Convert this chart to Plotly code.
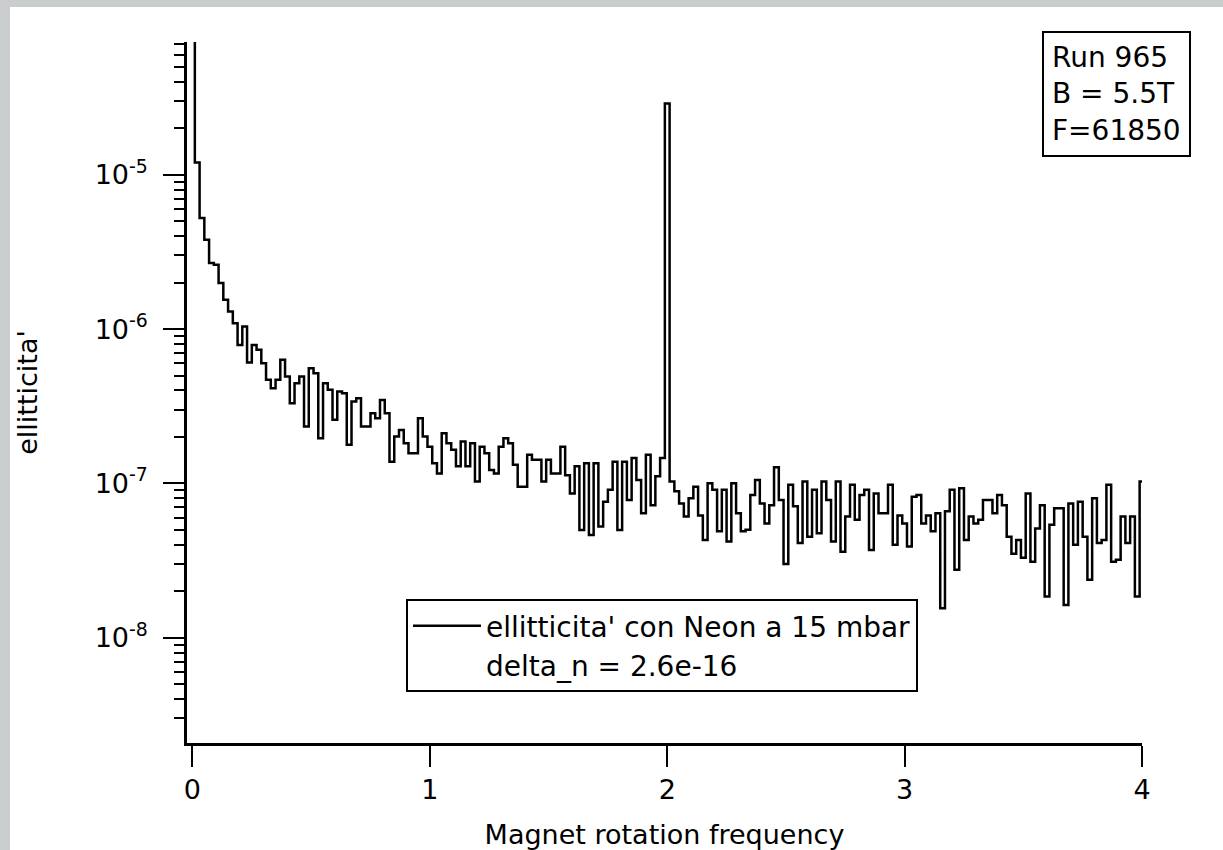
import plotly.graph_objects as go

# Frequency bins (0 to 4, step 0.02)
freq = [round(0.02 * i, 2) for i in range(201)]

# Ellipticity values (one per bin)
ellip_0_2 = [
    2.0e-4, 1.20e-5, 5.24e-6, 3.79e-6, 2.68e-6, 2.61e-6, 1.99e-6, 1.55e-6, 1.30e-6, 1.09e-6,
    7.9e-7, 1.04e-6, 6.07e-7, 7.9e-7, 7.34e-7, 6.01e-7, 4.69e-7, 4.14e-7, 4.69e-7, 6.32e-7,
    4.93e-7, 3.31e-7, 4.46e-7, 4.93e-7, 2.34e-7, 5.58e-7, 5.18e-7, 1.96e-7, 4.46e-7, 4.04e-7,
    2.58e-7, 3.94e-7, 3.84e-7, 1.78e-7, 3.39e-7, 3.56e-7, 2.34e-7, 2.34e-7, 2.85e-7, 2.64e-7,
    3.47e-7, 2.85e-7, 1.38e-7, 2.01e-7, 2.22e-7, 1.82e-7, 1.57e-7, 1.57e-7, 2.64e-7, 2.01e-7,
    1.73e-7, 1.35e-7, 1.16e-7, 2.11e-7, 1.82e-7, 1.65e-7, 1.29e-7, 1.87e-7, 1.29e-7, 1.82e-7,
    1.03e-7, 1.73e-7, 1.57e-7, 1.22e-7, 1.16e-7, 1.73e-7, 1.96e-7, 1.82e-7, 1.32e-7, 9.5e-8,
    9.5e-8, 1.53e-7, 1.42e-7, 1.42e-7, 1.03e-7, 1.42e-7, 1.16e-7, 1.16e-7, 1.73e-7, 1.13e-7,
    8.6e-8, 1.29e-7, 4.99e-8, 1.35e-7, 4.63e-8, 1.35e-7, 5.25e-8, 7.6e-8, 9.1e-8, 1.38e-7,
    4.99e-8, 1.38e-7, 7.8e-8, 1.46e-7, 1.05e-7, 6.4e-8, 1.53e-7, 7.2e-8, 1.11e-7, 1.46e-7,
]
ellip_2_4 = [
    2.9e-5,
    1.03e-7, 8.9e-8, 7.4e-8, 6.1e-8, 8.0e-8, 9.5e-8, 6.2e-8, 4.3e-8, 1.0e-7, 9.1e-8,
    4.9e-8, 9.1e-8, 4.2e-8, 1.0e-7, 6.4e-8, 4.9e-8, 5.0e-8, 8.4e-8, 1.05e-7, 7.4e-8,
    5.5e-8, 7.2e-8, 1.27e-7, 7.8e-8, 3.0e-8, 9.8e-8, 7.1e-8, 4.1e-8, 1.03e-7, 4.5e-8,
    9.1e-8, 4.75e-8, 1.03e-7, 7.8e-8, 4.2e-8, 1.03e-7, 3.6e-8, 6.1e-8, 9.8e-8, 5.8e-8,
    8.4e-8, 9.1e-8, 3.7e-8, 8.6e-8, 6.4e-8, 6.4e-8, 9.8e-8, 4.0e-8, 6.2e-8, 5.5e-8,
    3.9e-8, 8.2e-8, 8.4e-8, 5.5e-8, 6.2e-8, 4.9e-8, 6.4e-8, 1.55e-8, 6.6e-8, 9.1e-8,
    2.75e-8, 9.3e-8, 4.3e-8, 6.1e-8, 5.5e-8, 5.8e-8, 7.8e-8, 7.8e-8, 6.4e-8, 8.4e-8,
    7.2e-8, 4.5e-8, 3.5e-8, 4.3e-8, 3.3e-8, 8.6e-8, 3.1e-8, 5.1e-8, 7.2e-8, 1.85e-8,
    5.4e-8, 6.9e-8, 6.9e-8, 1.63e-8, 7.4e-8, 4.0e-8, 7.6e-8, 4.5e-8, 2.37e-8, 8.0e-8,
    4.1e-8, 4.3e-8, 9.8e-8, 3.1e-8, 3.2e-8, 6.1e-8, 4.1e-8, 6.1e-8, 1.85e-8, 1.03e-7,
]
ellip = ellip_0_2 + ellip_2_4

ytick_vals = [1e-8, 1e-7, 1e-6, 1e-5]
ytick_text = ["10<sup>-8</sup>", "10<sup>-7</sup>", "10<sup>-6</sup>", "10<sup>-5</sup>"]
yminor_vals = [m * 10.0 ** e for e in range(-9, -4) for m in range(2, 10)]
xtick_vals = [0, 1, 2, 3, 4]

series_name = "ellitticita' con Neon a 15 mbar"
note_name = "delta_n = 2.6e-16"
info_text = "Run 965<br>B = 5.5T<br>F=61850"

FONT = "DejaVu Sans"

fig = go.Figure()
fig.add_trace(go.Scatter(
    x=freq, y=ellip, mode="lines", line_shape="hvh",
    line=dict(color="black", width=2.5), name=series_name,
))
fig.add_trace(go.Scatter(
    x=[None], y=[None], mode="lines",
    line=dict(color="rgba(0,0,0,0)", width=0), name=note_name,
))

fig.update_layout(
    width=1223, height=850, autosize=False,
    margin=dict(l=187, r=81, t=42, b=107, autoexpand=False),
    paper_bgcolor="#c9cdcd", plot_bgcolor="white",
    font=dict(family=FONT, size=27, color="black"),
    showlegend=True,
    legend=dict(
        x=0.2293, y=0.2054, xanchor="left", yanchor="top",
        bgcolor="white", bordercolor="black", borderwidth=2,
        font=dict(family=FONT, size=28, color="black"),
        tracegroupgap=0, itemwidth=68,
    ),
    xaxis=dict(
        automargin=False,
        range=[-0.023, 4.0], tickmode="array", tickvals=xtick_vals,
        ticks="outside", ticklen=21, tickwidth=2, tickcolor="black",
        showline=True, linewidth=2.5, linecolor="black",
        showgrid=False, zeroline=False,
        tickfont=dict(family=FONT, size=27),
        title=dict(text="Magnet rotation frequency", standoff=30,
                   font=dict(family=FONT, size=27)),
    ),
    yaxis=dict(
        automargin=False,
        type="log", range=[-8.683, -4.139],
        tickmode="array", tickvals=ytick_vals, ticktext=ytick_text,
        ticks="outside", ticklen=21, tickwidth=2, tickcolor="black",
        ticklabelstandoff=10,
        minor=dict(tickmode="array", tickvals=yminor_vals, ticks="outside",
                   ticklen=10, tickwidth=2, tickcolor="black", showgrid=False),
        showline=True, linewidth=2.5, linecolor="black",
        showgrid=False, zeroline=False,
        tickfont=dict(family=FONT, size=27),
        title=dict(text="ellitticita'", standoff=50,
                   font=dict(family=FONT, size=27)),
    ),
    shapes=[dict(
        type="rect", xref="paper", yref="paper",
        x0=-0.18534, x1=1.2, y0=-0.3, y1=1.04993,
        fillcolor="white", line=dict(width=0), layer="below",
    )],
    annotations=[dict(
        text=info_text, xref="paper", yref="paper",
        x=0.8953, y=1.0157, xanchor="left", yanchor="top",
        align="left", showarrow=False,
        bordercolor="black", borderwidth=2, borderpad=8, bgcolor="white",
        font=dict(family=FONT, size=28, color="black"),
    )],
)

fig.write_html(
    "out.html",
    config={"displayModeBar": False},
    post_script="document.body.style.margin='0px';document.body.style.padding='0px';",
)
